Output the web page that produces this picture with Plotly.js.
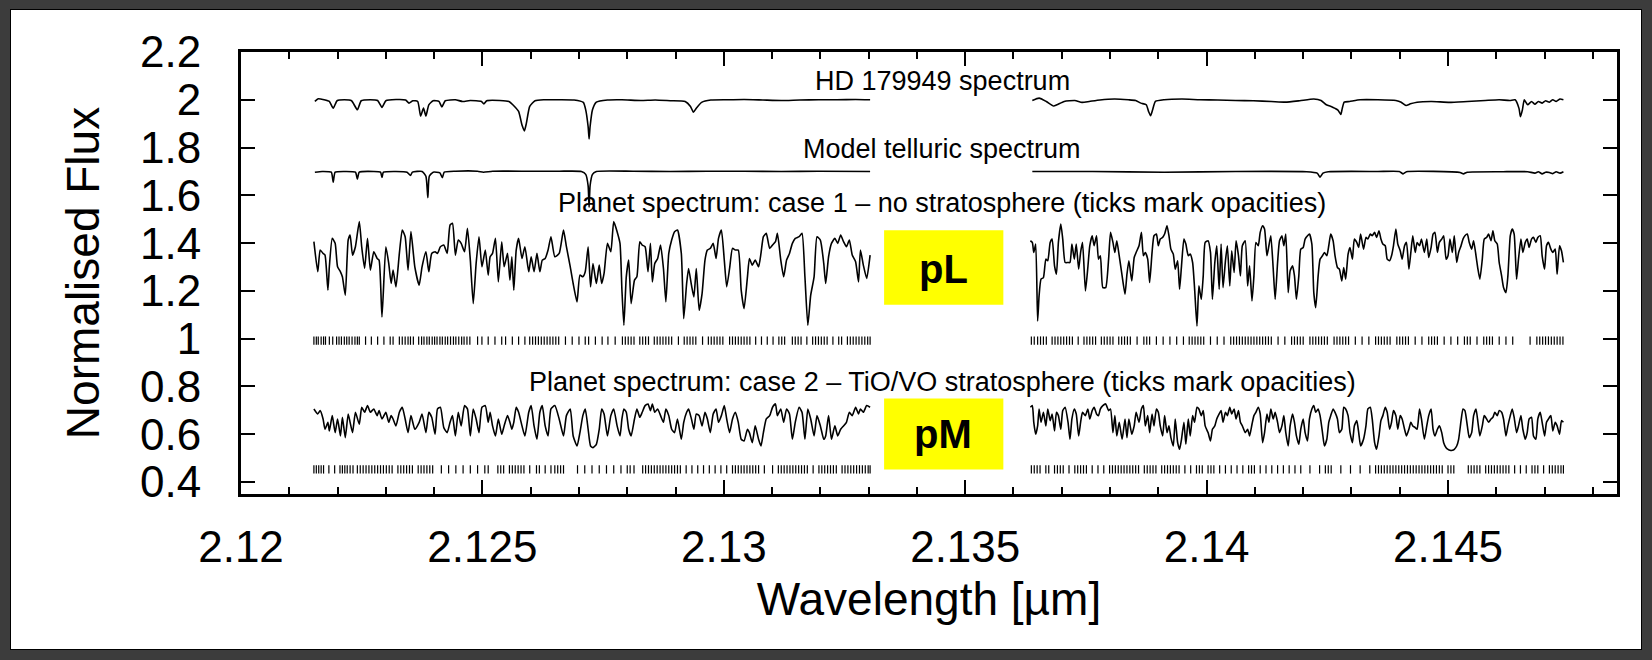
<!DOCTYPE html>
<html><head><meta charset="utf-8">
<script src="https://cdn.plot.ly/plotly-3.0.1.min.js"></script>
<style>
html,body{margin:0;padding:0;background:#3c3c3c;width:1652px;height:660px;overflow:hidden}
#frame{position:absolute;left:10px;top:9px;width:1630px;height:639px;background:#fff;border:1px solid #000}
#chart{position:absolute;left:0;top:0;width:1652px;height:660px}
</style></head><body>
<div id="frame"></div><div id="chart"></div>
<script>
// ---------- axis ticks ----------
const xTickVals = [2.12, 2.125, 2.13, 2.135, 2.14, 2.145];
const xTickText = ['2.12', '2.125', '2.13', '2.135', '2.14', '2.145'];
const yTickVals = [0.4, 0.6, 0.8, 1, 1.2, 1.4, 1.6, 1.8, 2, 2.2];
const yTickText = ['0.4', '0.6', '0.8', '1', '1.2', '1.4', '1.6', '1.8', '2', '2.2'];

// ---------- HD 179949 spectrum ----------
const hdLeftWl = [2.12153,2.12160,2.12172,2.12183,2.12191,2.12199,2.12214,2.12229,2.12241,2.12249,2.12268,2.12283,2.12292,2.12300,2.12321,2.12341,2.12348,2.12356,2.12366,2.12372,2.12378,2.12383,2.12389,2.12398,2.12410,2.12416,2.12423,2.12444,2.12459,2.12475,2.12498,2.12503,2.12509,2.12536,2.12555,2.12563,2.12575,2.12582,2.12587,2.12591,2.12598,2.12609,2.12628,2.12659,2.12690,2.12709,2.12714,2.12719,2.12721,2.12723,2.12728,2.12736,2.12759,2.12789,2.12828,2.12858,2.12889,2.12920,2.12931,2.12937,2.12943,2.12954,2.12973,2.13012,2.13042,2.13081,2.13119,2.13157,2.13196,2.13234,2.13273,2.13303];
const hdLeftFlux = [1.993,2.004,2.0,1.993,1.965,1.996,2.0,1.996,1.958,1.996,2.0,1.997,1.968,1.996,2.001,1.999,1.986,1.996,1.993,1.932,1.965,1.932,1.979,1.996,1.993,1.970,1.996,2.0,1.993,1.997,1.993,1.983,1.996,1.997,1.993,1.979,1.951,1.894,1.870,1.901,1.972,1.996,2.0,2.0,1.999,1.989,1.958,1.887,1.836,1.887,1.958,1.990,1.999,2.0,1.997,1.999,1.996,1.993,1.972,1.948,1.965,1.989,1.999,2.0,2.001,1.999,1.997,1.999,2.0,2.0,2.001,2.0];
const hdRightWl = [2.13639,2.13653,2.13668,2.13683,2.13690,2.13705,2.13727,2.13742,2.13757,2.13779,2.13809,2.13838,2.13853,2.13864,2.13875,2.13880,2.13884,2.13888,2.13894,2.13912,2.13949,2.13986,2.14023,2.14060,2.14097,2.14134,2.14163,2.14193,2.14222,2.14237,2.14248,2.14259,2.14266,2.14272,2.14278,2.14281,2.14285,2.14296,2.14318,2.14355,2.14392,2.14403,2.14413,2.14422,2.14436,2.14466,2.14503,2.14540,2.14577,2.14606,2.14628,2.14639,2.14647,2.14650,2.14654,2.14658,2.14665,2.14673,2.14680,2.14687,2.14695,2.14702,2.14710,2.14717,2.14724,2.14732,2.14739];
const hdRightFlux = [1.997,2.007,1.993,1.974,1.979,1.993,1.997,1.989,1.993,1.999,2.003,2.0,1.997,1.986,1.979,1.950,1.933,1.957,1.993,2.0,2.003,2.0,1.999,1.997,1.996,1.993,1.990,1.996,2.003,1.997,1.979,1.971,1.964,1.957,1.939,1.964,1.990,1.993,2.0,2.0,1.997,1.990,1.976,1.983,1.990,1.993,1.989,1.993,1.997,2.0,1.997,2.0,1.964,1.929,1.957,2.0,1.979,1.993,1.981,1.993,1.986,1.996,1.990,2.0,1.993,2.003,2.0];

// ---------- Model telluric spectrum ----------
const telLeftWl = [2.12153,2.12168,2.12187,2.12191,2.12195,2.12214,2.12237,2.12241,2.12245,2.12275,2.12289,2.12292,2.12295,2.12321,2.12344,2.12351,2.12355,2.12375,2.12383,2.12387,2.12390,2.12398,2.12412,2.12417,2.12421,2.12444,2.12490,2.12502,2.12521,2.12598,2.12659,2.12705,2.12714,2.12719,2.12721,2.12723,2.12728,2.12736,2.12812,2.12889,2.12966,2.13042,2.13119,2.13196,2.13303];
const telLeftFlux = [1.697,1.700,1.697,1.655,1.697,1.700,1.697,1.668,1.697,1.700,1.697,1.675,1.697,1.700,1.697,1.683,1.697,1.700,1.680,1.590,1.680,1.697,1.694,1.674,1.697,1.701,1.701,1.697,1.701,1.701,1.701,1.700,1.688,1.640,1.550,1.640,1.688,1.700,1.701,1.700,1.701,1.701,1.700,1.701,1.700];
const telRightWl = [2.13639,2.13764,2.13912,2.14060,2.14207,2.14229,2.14235,2.14241,2.14252,2.14355,2.14399,2.14407,2.14414,2.14525,2.14532,2.14540,2.14614,2.14665,2.14680,2.14687,2.14695,2.14702,2.14710,2.14717,2.14724,2.14732,2.14739];
const telRightFlux = [1.700,1.700,1.697,1.700,1.699,1.693,1.676,1.693,1.699,1.700,1.700,1.690,1.699,1.696,1.690,1.697,1.699,1.699,1.693,1.699,1.690,1.697,1.696,1.691,1.699,1.693,1.699];

// ---------- Planet spectra: shared wavelength samples ----------
const planetLeftWl = [
2.12151,2.12159,2.12164,2.12170,2.12174,2.12180,2.12183,2.12189,2.12195,2.12200,
2.12206,2.12210,2.12216,2.12222,2.12226,2.12231,2.12237,2.12245,2.12250,2.12256,
2.12262,2.12268,2.12275,2.12282,2.12286,2.12292,2.12300,2.12306,2.12311,2.12315,
2.12321,2.12328,2.12334,2.12340,2.12346,2.12352,2.12360,2.12369,2.12375,2.12383,
2.12389,2.12395,2.12402,2.12407,2.12413,2.12420,2.12427,2.12433,2.12438,2.12444,
2.12450,2.12456,2.12463,2.12469,2.12475,2.12481,2.12487,2.12493,2.12499,2.12506,
2.12512,2.12516,2.12521,2.12527,2.12533,2.12540,2.12545,2.12552,2.12557,2.12561,
2.12565,2.12570,2.12575,2.12582,2.12588,2.12596,2.12601,2.12607,2.12613,2.12619,
2.12624,2.12630,2.12636,2.12642,2.12650,2.12659,2.12668,2.12674,2.12682,2.12688,
2.12696,2.12702,2.12708,2.12713,2.12719,2.12724,2.12729,2.12736,2.12742,2.12747,
2.12752,2.12759,2.12766,2.12772,2.12779,2.12785,2.12789,2.12793,2.12798,2.12803,
2.12808,2.12815,2.12820,2.12826,2.12831,2.12837,2.12843,2.12848,2.12852,2.12857,
2.12863,2.12869,2.12875,2.12880,2.12886,2.12892,2.12898,2.12904,2.12912,2.12917,
2.12923,2.12927,2.12933,2.12938,2.12943,2.12949,2.12955,2.12961,2.12966,2.12972,
2.12978,2.12984,2.12989,2.12995,2.13001,2.13006,2.13012,2.13018,2.13024,2.13030,
2.13036,2.13042,2.13049,2.13053,2.13059,2.13065,2.13072,2.13077,2.13082,2.13088,
2.13095,2.13101,2.13107,2.13111,2.13118,2.13124,2.13130,2.13136,2.13142,2.13148,
2.13156,2.13162,2.13168,2.13174,2.13180,2.13187,2.13193,2.13200,2.13207,2.13211,
2.13217,2.13223,2.13230,2.13236,2.13242,2.13248,2.13254,2.13260,2.13266,2.13273,
2.13279,2.13283,2.13289,2.13296,2.13303];
const planetRightWl = [
2.13635,2.13639,2.13642,2.13646,2.13650,2.13653,2.13657,2.13662,2.13667,2.13671,
2.13676,2.13680,2.13685,2.13689,2.13693,2.13698,2.13702,2.13707,2.13713,2.13717,
2.13721,2.13726,2.13730,2.13735,2.13739,2.13743,2.13749,2.13754,2.13758,2.13763,
2.13767,2.13772,2.13776,2.13780,2.13785,2.13791,2.13797,2.13801,2.13806,2.13810,
2.13814,2.13819,2.13825,2.13831,2.13835,2.13839,2.13845,2.13850,2.13854,2.13860,
2.13865,2.13869,2.13873,2.13878,2.13882,2.13887,2.13891,2.13896,2.13900,2.13904,
2.13909,2.13913,2.13918,2.13922,2.13926,2.13931,2.13935,2.13940,2.13944,2.13948,
2.13953,2.13957,2.13962,2.13966,2.13971,2.13975,2.13980,2.13984,2.13989,2.13993,
2.13997,2.14003,2.14008,2.14012,2.14017,2.14021,2.14026,2.14030,2.14034,2.14039,
2.14043,2.14048,2.14052,2.14057,2.14061,2.14066,2.14070,2.14074,2.14080,2.14085,
2.14089,2.14094,2.14098,2.14102,2.14107,2.14111,2.14116,2.14120,2.14125,2.14129,
2.14133,2.14138,2.14142,2.14147,2.14151,2.14156,2.14160,2.14164,2.14169,2.14173,
2.14178,2.14182,2.14186,2.14191,2.14195,2.14200,2.14204,2.14209,2.14213,2.14218,
2.14222,2.14226,2.14231,2.14235,2.14240,2.14244,2.14249,2.14253,2.14257,2.14262,
2.14266,2.14271,2.14275,2.14280,2.14284,2.14288,2.14293,2.14297,2.14302,2.14306,
2.14311,2.14315,2.14319,2.14325,2.14330,2.14334,2.14339,2.14343,2.14348,2.14352,
2.14357,2.14361,2.14365,2.14370,2.14374,2.14379,2.14383,2.14387,2.14392,2.14396,
2.14401,2.14405,2.14410,2.14414,2.14419,2.14423,2.14427,2.14432,2.14436,2.14441,
2.14445,2.14451,2.14456,2.14460,2.14465,2.14469,2.14473,2.14478,2.14482,2.14487,
2.14491,2.14496,2.14500,2.14504,2.14509,2.14513,2.14518,2.14522,2.14527,2.14531,
2.14535,2.14540,2.14544,2.14549,2.14553,2.14558,2.14562,2.14566,2.14571,2.14575,
2.14580,2.14584,2.14589,2.14593,2.14597,2.14602,2.14606,2.14611,2.14615,2.14620,
2.14624,2.14629,2.14633,2.14637,2.14642,2.14646,2.14651,2.14655,2.14660,2.14664,
2.14668,2.14673,2.14677,2.14682,2.14686,2.14691,2.14695,2.14700,2.14704,2.14708,
2.14713,2.14717,2.14722,2.14726,2.14731,2.14735,2.14739];

// ---------- Planet case 1 (no stratosphere) ----------
const case1Left = [
1.406,1.280,1.371,1.357,1.350,1.203,1.301,1.420,1.399,1.301,
1.280,1.259,1.182,1.413,1.434,1.350,1.385,1.490,1.385,1.294,
1.420,1.287,1.364,1.336,1.329,1.091,1.385,1.315,1.231,1.287,
1.217,1.357,1.455,1.427,1.287,1.448,1.301,1.224,1.301,1.364,
1.280,1.357,1.364,1.357,1.385,1.392,1.357,1.476,1.483,1.350,
1.413,1.399,1.364,1.462,1.329,1.147,1.315,1.427,1.301,1.371,
1.266,1.343,1.357,1.420,1.238,1.406,1.301,1.357,1.245,1.343,
1.203,1.371,1.420,1.336,1.385,1.280,1.343,1.280,1.357,1.280,
1.329,1.336,1.371,1.427,1.343,1.357,1.455,1.385,1.301,1.231,
1.154,1.266,1.259,1.280,1.385,1.217,1.315,1.231,1.308,1.231,
1.273,1.399,1.364,1.490,1.448,1.399,1.203,1.056,1.259,1.329,
1.147,1.245,1.259,1.406,1.392,1.385,1.280,1.399,1.238,1.315,
1.336,1.392,1.294,1.154,1.357,1.413,1.448,1.455,1.357,1.084,
1.231,1.294,1.224,1.175,1.294,1.119,1.189,1.329,1.371,1.378,
1.399,1.336,1.420,1.455,1.329,1.217,1.294,1.378,1.371,1.371,
1.203,1.126,1.259,1.336,1.308,1.329,1.301,1.357,1.427,1.441,
1.378,1.392,1.406,1.441,1.329,1.259,1.329,1.357,1.399,1.420,
1.427,1.441,1.259,1.056,1.182,1.259,1.427,1.413,1.315,1.231,
1.343,1.399,1.420,1.399,1.434,1.406,1.385,1.413,1.350,1.322,
1.238,1.371,1.308,1.252,1.350];
const case1Right = [
1.410,1.403,1.361,1.396,1.074,1.179,1.249,1.256,1.333,1.326,
1.403,1.417,1.305,1.270,1.403,1.480,1.417,1.319,1.319,1.319,
1.396,1.333,1.396,1.291,1.361,1.403,1.200,1.298,1.389,1.431,
1.389,1.431,1.333,1.347,1.214,1.214,1.333,1.445,1.403,1.361,
1.410,1.347,1.263,1.186,1.270,1.326,1.242,1.340,1.361,1.389,
1.445,1.347,1.361,1.333,1.235,1.361,1.431,1.438,1.389,1.417,
1.424,1.438,1.473,1.431,1.375,1.354,1.291,1.326,1.207,1.305,
1.417,1.396,1.347,1.354,1.319,1.214,1.053,1.221,1.165,1.263,
1.403,1.410,1.361,1.165,1.319,1.389,1.207,1.396,1.214,1.326,
1.389,1.221,1.368,1.277,1.410,1.347,1.263,1.389,1.410,1.221,
1.305,1.158,1.263,1.403,1.389,1.445,1.473,1.459,1.347,1.389,
1.431,1.291,1.165,1.319,1.410,1.431,1.389,1.438,1.193,1.284,
1.305,1.263,1.165,1.263,1.375,1.382,1.417,1.431,1.438,1.396,
1.193,1.130,1.263,1.333,1.347,1.361,1.347,1.389,1.438,1.410,
1.347,1.298,1.291,1.242,1.298,1.249,1.354,1.382,1.333,1.417,
1.403,1.382,1.438,1.375,1.424,1.417,1.438,1.431,1.445,1.424,
1.452,1.417,1.396,1.389,1.333,1.326,1.347,1.389,1.459,1.396,
1.368,1.333,1.389,1.403,1.291,1.361,1.431,1.361,1.403,1.389,
1.417,1.361,1.417,1.340,1.382,1.438,1.445,1.361,1.403,1.417,
1.431,1.333,1.347,1.417,1.361,1.431,1.319,1.361,1.389,1.417,
1.431,1.438,1.403,1.375,1.410,1.347,1.291,1.249,1.333,1.417,
1.424,1.438,1.410,1.452,1.410,1.396,1.319,1.263,1.214,1.193,
1.263,1.431,1.459,1.438,1.249,1.333,1.417,1.361,1.403,1.417,
1.382,1.417,1.424,1.403,1.424,1.431,1.347,1.291,1.389,1.403,
1.375,1.361,1.375,1.270,1.389,1.368,1.319];

// ---------- Planet case 2 (TiO/VO stratosphere) ----------
const case2Left = [
0.706,0.685,0.699,0.664,0.621,0.650,0.614,0.678,0.607,0.664,
0.593,0.671,0.586,0.685,0.650,0.607,0.692,0.642,0.713,0.692,
0.720,0.692,0.706,0.678,0.699,0.664,0.692,0.650,0.678,0.664,
0.635,0.692,0.713,0.664,0.607,0.678,0.621,0.650,0.685,0.607,
0.692,0.671,0.600,0.706,0.713,0.628,0.607,0.650,0.678,0.593,
0.692,0.635,0.720,0.706,0.593,0.706,0.664,0.607,0.713,0.720,
0.650,0.692,0.635,0.593,0.664,0.600,0.635,0.678,0.650,0.621,
0.650,0.713,0.692,0.635,0.593,0.692,0.720,0.635,0.579,0.692,
0.720,0.635,0.593,0.706,0.720,0.664,0.593,0.678,0.706,0.593,
0.551,0.607,0.678,0.706,0.621,0.551,0.544,0.558,0.621,0.706,
0.685,0.593,0.678,0.706,0.635,0.593,0.664,0.706,0.692,0.621,
0.593,0.664,0.706,0.671,0.692,0.720,0.727,0.699,0.727,0.692,
0.706,0.678,0.650,0.706,0.678,0.621,0.607,0.664,0.579,0.650,
0.692,0.706,0.664,0.621,0.685,0.678,0.635,0.692,0.664,0.607,
0.685,0.706,0.650,0.678,0.720,0.664,0.607,0.664,0.692,0.650,
0.579,0.572,0.621,0.607,0.565,0.635,0.579,0.551,0.607,0.664,
0.678,0.713,0.727,0.678,0.706,0.650,0.706,0.685,0.579,0.650,
0.713,0.692,0.579,0.706,0.664,0.593,0.678,0.635,0.579,0.593,
0.678,0.579,0.635,0.593,0.621,0.635,0.650,0.692,0.678,0.713,
0.685,0.706,0.692,0.720,0.713];
const case2Right = [
0.713,0.720,0.650,0.600,0.635,0.706,0.650,0.692,0.635,0.706,
0.657,0.685,0.614,0.692,0.678,0.621,0.699,0.713,0.650,0.579,
0.664,0.706,0.685,0.593,0.650,0.692,0.678,0.706,0.664,0.699,
0.713,0.685,0.678,0.706,0.720,0.727,0.699,0.706,0.607,0.678,
0.593,0.650,0.579,0.664,0.586,0.664,0.600,0.635,0.692,0.650,
0.706,0.720,0.635,0.678,0.607,0.685,0.635,0.706,0.692,0.635,
0.593,0.678,0.607,0.635,0.586,0.551,0.664,0.565,0.537,0.579,
0.650,0.558,0.664,0.593,0.678,0.650,0.713,0.706,0.678,0.699,
0.635,0.607,0.572,0.621,0.635,0.664,0.685,0.699,0.650,0.692,
0.678,0.713,0.685,0.706,0.664,0.699,0.650,0.635,0.607,0.621,
0.593,0.642,0.678,0.692,0.713,0.685,0.565,0.607,0.685,0.650,
0.706,0.664,0.692,0.650,0.607,0.635,0.678,0.607,0.551,0.635,
0.685,0.650,0.593,0.558,0.621,0.664,0.607,0.572,0.664,0.706,
0.720,0.692,0.706,0.678,0.607,0.551,0.579,0.650,0.678,0.706,
0.692,0.664,0.607,0.621,0.713,0.706,0.678,0.607,0.565,0.635,
0.657,0.607,0.551,0.579,0.635,0.706,0.713,0.664,0.565,0.537,
0.593,0.657,0.678,0.713,0.692,0.621,0.650,0.699,0.678,0.621,
0.678,0.664,0.621,0.593,0.621,0.650,0.635,0.628,0.621,0.706,
0.664,0.579,0.635,0.678,0.706,0.621,0.593,0.621,0.635,0.607,
0.565,0.544,0.537,0.533,0.533,0.537,0.551,0.579,0.657,0.706,
0.699,0.635,0.586,0.607,0.678,0.706,0.650,0.593,0.635,0.678,
0.664,0.650,0.664,0.671,0.692,0.678,0.699,0.692,0.664,0.593,
0.635,0.678,0.706,0.671,0.607,0.635,0.678,0.621,0.579,0.607,
0.664,0.671,0.593,0.579,0.664,0.692,0.650,0.593,0.650,0.664,
0.678,0.614,0.650,0.635,0.600,0.657,0.650];

// ---------- Opacity tick marks (wavelengths) ----------
const case1TickLevel = 0.992;
const case2TickLevel = 0.453;
const case1Ticks = [
2.12151,2.12156,2.12160,2.12166,2.12171,2.12175,2.12183,2.12190,2.12198,2.12203,2.12208,2.12214,2.12219,2.12224,2.12230,2.12236,2.12241,2.12245,
2.12258,2.12270,2.12283,2.12296,2.12309,2.12315,
2.12328,2.12334,2.12340,2.12346,2.12351,2.12357,2.12368,2.12374,2.12379,2.12385,2.12390,2.12396,2.12401,2.12406,2.12412,2.12417,2.12423,2.12428,2.12434,2.12440,2.12445,2.12451,2.12457,2.12462,2.12468,2.12474,
2.12490,2.12499,2.12512,2.12526,2.12540,2.12548,2.12562,2.12575,
2.12588,2.12598,2.12604,2.12610,2.12616,2.12622,2.12628,2.12634,2.12640,2.12646,2.12652,2.12658,
2.12672,2.12686,2.12700,2.12713,2.12720,2.12734,2.12748,2.12760,2.12775,
2.12790,2.12796,2.12802,2.12808,2.12814,2.12826,2.12832,2.12838,2.12844,2.12856,2.12862,2.12868,2.12874,2.12880,2.12886,2.12892,2.12906,2.12918,2.12924,2.12930,2.12936,2.12942,2.12956,2.12968,2.12974,2.12980,2.12986,2.12992,2.12998,
2.13012,2.13018,2.13024,2.13030,2.13036,2.13042,2.13048,2.13054,2.13066,2.13078,2.13090,2.13102,2.13114,2.13120,2.13126,
2.13142,2.13148,2.13154,2.13160,2.13172,2.13184,2.13190,2.13196,2.13202,2.13208,2.13214,2.13226,2.13238,2.13244,2.13256,2.13262,2.13268,2.13274,2.13280,2.13286,2.13292,2.13298,2.13303,
2.13637,2.13643,2.13650,2.13656,2.13662,2.13668,2.13680,2.13686,2.13692,2.13698,2.13704,2.13710,2.13716,2.13722,2.13734,2.13746,2.13752,2.13758,2.13764,2.13770,2.13782,2.13788,2.13794,2.13800,2.13806,2.13818,2.13824,2.13830,2.13836,2.13842,2.13856,2.13870,2.13876,2.13882,2.13896,2.13910,2.13924,2.13938,2.13952,2.13964,2.13970,2.13976,2.13982,2.13988,2.13994,2.14008,2.14022,2.14036,2.14050,2.14056,2.14062,2.14068,2.14074,2.14080,2.14086,2.14092,2.14098,2.14104,2.14110,2.14116,2.14122,2.14128,2.14134,2.14148,2.14162,2.14176,2.14182,2.14188,2.14194,2.14200,2.14214,2.14220,2.14226,2.14232,2.14238,2.14244,2.14250,2.14264,2.14270,2.14276,2.14282,2.14288,2.14294,2.14308,2.14322,2.14336,2.14350,2.14356,2.14362,2.14368,2.14374,2.14380,2.14394,2.14400,2.14406,2.14412,2.14418,2.14432,2.14446,2.14460,2.14466,2.14472,2.14478,2.14492,2.14506,2.14520,2.14534,2.14540,2.14546,2.14560,2.14574,2.14580,2.14586,2.14592,2.14606,2.14620,2.14634,2.14670,2.14684,2.14690,2.14696,2.14702,2.14708,2.14714,2.14720,2.14726,2.14732,2.14738];
const case2Ticks = [
2.12151,2.12156,2.12161,2.12166,2.12171,2.12182,2.12194,2.12205,2.12210,2.12215,2.12220,2.12226,2.12232,2.12241,2.12247,2.12253,2.12259,2.12265,2.12271,2.12277,2.12283,2.12289,2.12295,2.12301,2.12307,2.12313,2.12325,2.12331,2.12337,2.12343,2.12349,2.12355,2.12367,2.12373,2.12379,2.12385,2.12391,2.12397,
2.12415,2.12430,2.12445,2.12460,2.12475,2.12490,2.12505,2.12512,
2.12532,2.12538,2.12544,2.12556,2.12562,2.12568,2.12574,2.12580,2.12586,2.12598,2.12612,2.12618,2.12630,2.12642,2.12650,2.12656,2.12662,2.12668,
2.12697,2.12712,2.12727,2.12742,2.12757,2.12772,2.12787,2.12800,2.12806,2.12814,
2.12832,2.12838,2.12844,2.12850,2.12856,2.12862,2.12868,2.12874,2.12880,2.12886,2.12892,2.12898,2.12904,2.12910,2.12922,2.12934,2.12946,2.12958,2.12970,2.12982,2.12994,2.13006,2.13018,2.13024,2.13030,2.13036,2.13042,2.13048,2.13054,2.13060,2.13066,2.13072,2.13084,
2.13101,2.13113,2.13119,2.13125,2.13131,2.13137,2.13143,2.13149,2.13155,2.13161,2.13167,2.13173,2.13185,2.13197,2.13203,2.13209,2.13215,2.13221,2.13227,2.13233,2.13245,2.13251,2.13257,2.13263,2.13269,2.13275,2.13281,2.13287,2.13293,2.13299,2.13303,
2.13637,2.13643,2.13649,2.13655,2.13667,2.13673,2.13685,2.13691,2.13697,2.13703,2.13715,2.13727,2.13733,2.13739,2.13745,2.13751,2.13763,2.13775,2.13787,2.13799,2.13805,2.13811,2.13817,2.13823,2.13829,2.13835,2.13841,2.13847,2.13853,2.13859,2.13871,2.13877,2.13883,2.13889,2.13895,2.13907,2.13913,2.13919,2.13925,2.13931,2.13937,2.13943,2.13955,2.13967,2.13979,2.13985,2.13991,2.14003,2.14009,2.14015,2.14027,2.14039,2.14051,2.14063,2.14075,2.14087,2.14093,2.14099,2.14111,2.14123,2.14135,2.14147,2.14159,2.14171,2.14183,2.14195,2.14214,2.14234,2.14246,2.14252,2.14258,2.14278,2.14298,2.14318,2.14338,2.14350,2.14356,2.14362,2.14368,2.14374,2.14380,2.14386,2.14392,2.14398,2.14404,2.14410,2.14416,2.14422,2.14428,2.14434,2.14440,2.14446,2.14452,2.14458,2.14464,2.14470,2.14476,2.14482,2.14488,2.14500,2.14506,2.14512,2.14542,2.14548,2.14554,2.14560,2.14566,2.14578,2.14584,2.14590,2.14596,2.14602,2.14608,2.14614,2.14620,2.14626,2.14638,2.14650,2.14662,2.14674,2.14680,2.14686,2.14698,2.14710,2.14716,2.14722,2.14728,2.14734,2.14739];

// ---------- labels ----------
const seriesLabels = {
  hd: 'HD 179949 spectrum',
  tel: 'Model telluric spectrum',
  c1: 'Planet spectrum: case 1 \u2013 no stratosphere (ticks mark opacities)',
  c2: 'Planet spectrum: case 2 \u2013 TiO/VO stratosphere (ticks mark opacities)'
};
const boxLabels = ['pL', 'pM'];

// ---------- build ----------
const FONT = '"Liberation Sans", Arial, Helvetica, sans-serif';
function spec(x, y, name, smooth) {
  return {x: x, y: y, name: name, type: 'scatter', mode: 'lines',
          line: {color: '#000', width: 1.6, shape: smooth ? 'spline' : 'linear', smoothing: smooth || 0},
          hoverinfo: 'skip'};
}
function tickRow(x, level, name) {
  return {x: x, y: x.map(() => level), name: name, type: 'scatter', mode: 'markers',
          marker: {symbol: 'line-ns', size: 6, color: '#000', line: {color: '#000', width: 1.2}},
          hoverinfo: 'skip'};
}
const traces = [
  spec(hdLeftWl, hdLeftFlux, seriesLabels.hd, 0.5),
  spec(hdRightWl, hdRightFlux, seriesLabels.hd, 0.5),
  spec(telLeftWl, telLeftFlux, seriesLabels.tel, 0.5),
  spec(telRightWl, telRightFlux, seriesLabels.tel, 0.5),
  spec(planetLeftWl, case1Left, seriesLabels.c1, 0.5),
  spec(planetRightWl, case1Right, seriesLabels.c1, 0.5),
  spec(planetLeftWl, case2Left, seriesLabels.c2, 0.5),
  spec(planetRightWl, case2Right, seriesLabels.c2, 0.5),
  tickRow(case1Ticks, case1TickLevel, 'case 1 opacities'),
  tickRow(case2Ticks, case2TickLevel, 'case 2 opacities')
];

const axisCommon = {
  tickmode: 'array', ticks: 'inside', ticklen: 14, tickwidth: 2, tickcolor: '#000',
  showline: true, linewidth: 3, linecolor: '#000', mirror: 'ticks',
  showgrid: false, zeroline: false, tickfont: {size: 44, family: FONT, color: '#000'}
};
const layout = {
  width: 1652, height: 660,
  margin: {l: 241, r: 35, t: 52, b: 166, pad: 0},
  paper_bgcolor: 'rgba(0,0,0,0)', plot_bgcolor: 'rgba(0,0,0,0)',
  showlegend: false, hovermode: false,
  font: {family: FONT, color: '#000'},
  xaxis: Object.assign({}, axisCommon, {
    range: [2.12, 2.1485], tickvals: xTickVals, ticktext: xTickText,
    ticklabelstandoff: 12,
    minor: {tickmode: 'linear', tick0: 2.12, dtick: 0.001, ticks: 'inside', ticklen: 7,
            tickwidth: 2, tickcolor: '#000', showgrid: false},
    title: {text: 'Wavelength [\u00b5m]', font: {size: 46, family: FONT, color: '#000'}, standoff: 14}
  }),
  yaxis: Object.assign({}, axisCommon, {
    range: [0.35, 2.2], tickvals: yTickVals, ticktext: yTickText,
    ticklabelstandoff: 28,
    title: {text: 'Normalised Flux', font: {size: 46, family: FONT, color: '#000'}, standoff: 26}
  }),
  shapes: [
    {type: 'rect', xref: 'x', yref: 'y', x0: 2.13332, x1: 2.13579, y0: 1.142, y1: 1.454,
     fillcolor: '#ffff00', line: {width: 0}, layer: 'below'},
    {type: 'rect', xref: 'x', yref: 'y', x0: 2.13332, x1: 2.13579, y0: 0.453, y1: 0.750,
     fillcolor: '#ffff00', line: {width: 0}, layer: 'below'}
  ],
  annotations: [
    {x: 2.13452, y: 2.078, text: seriesLabels.hd},
    {x: 2.13452, y: 1.796, text: seriesLabels.tel},
    {x: 2.13452, y: 1.566, text: seriesLabels.c1},
    {x: 2.13452, y: 0.820, text: seriesLabels.c2}
  ].map(a => Object.assign(a, {xref: 'x', yref: 'y', showarrow: false,
      xanchor: 'center', yanchor: 'middle', font: {size: 27, family: FONT, color: '#000'}}))
   .concat([
    {x: 2.13454, y: 1.292, text: '<b>' + boxLabels[0] + '</b>'},
    {x: 2.13454, y: 0.600, text: '<b>' + boxLabels[1] + '</b>'}
  ].map(a => Object.assign(a, {xref: 'x', yref: 'y', showarrow: false,
      xanchor: 'center', yanchor: 'middle', font: {size: 40, family: FONT, color: '#000'}})))
};
Plotly.newPlot('chart', traces, layout, {staticPlot: true, displayModeBar: false});
</script></body></html>
